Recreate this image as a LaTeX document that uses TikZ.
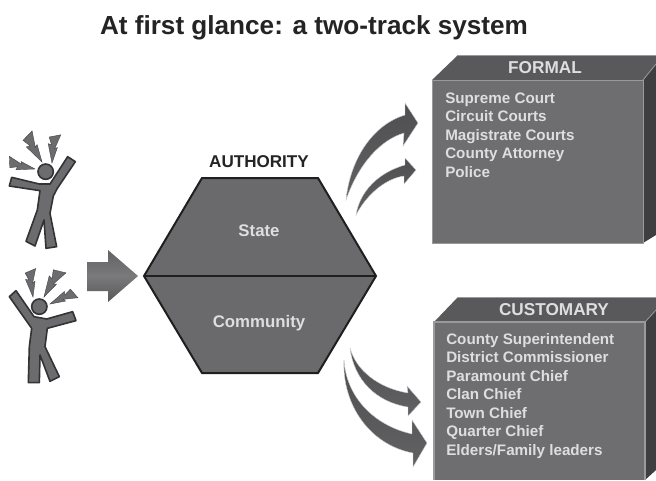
\documentclass[tikz,border=0pt]{standalone}
\usepackage{fontspec}
\setmainfont{Liberation Sans}
\definecolor{front}{HTML}{6E6E71}
\definecolor{topc}{HTML}{59595B}
\definecolor{sidec}{HTML}{3E3E40}
\definecolor{edgec}{HTML}{9A9A9C}
\definecolor{txt}{HTML}{DEDEDE}
\definecolor{hex}{HTML}{6A6A6C}
\definecolor{fig}{HTML}{6C6C6E}
\definecolor{figd}{HTML}{333335}
\definecolor{arr}{HTML}{626264}
\tikzset{x=0.75pt,y=-0.75pt,
 boxfront/.style={fill=front,draw=edgec,line width=0.8pt},
 listing/.style={anchor=north west,align=left,text=txt,font=\bfseries\fontsize{11.4}{13.85}\selectfont,inner sep=0pt},
 boxhead/.style={text=txt,font=\bfseries\fontsize{12.9}{14}\selectfont,inner sep=0pt},
 hexlabel/.style={text=txt,font=\bfseries\fontsize{12.6}{14}\selectfont,inner sep=0pt},
 curvearrow/.style={top color=arr!80!black,bottom color=arr,draw=white!70!arr,line width=0.3pt},
 person/.style={fill=fig,draw=figd,line width=1.2pt,line join=round},
 bolt/.style={fill=fig,draw=figd!70!fig,line width=0.3pt}}
\newcommand{\boltat}[4]{% tip x,y, screen angle, length
 \begin{scope}[shift={(#1,#2)},rotate=#3,scale=#4]
  \path[bolt] (0,0) -- (0.55,0.13) -- (0.50,0.04) -- (1,0.20) -- (0.88,-0.19) -- (0.62,-0.08) -- (0.65,-0.20) -- cycle;
 \end{scope}}
\begin{document}
\begin{tikzpicture}
\useasboundingbox (0,0) rectangle (656,480);
\fill[white] (0,0) rectangle (656,480);
\node[inner sep=0pt,text=figd!70!black,font=\bfseries\fontsize{19.6}{22}\selectfont] (title) at (314,28) {At first glance: a two-track system};

% figures
\begin{scope}[shift={(0,120)},scale=0.3333]
\path[person] (35,172) -- (118,192) -- (150,192) -- (203,110) -- (226,125) -- (172,205) -- (160,228) -- (150,280) -- (170,380) -- (138,385) -- (132,300) -- (105,378) -- (78,364) -- (112,270) -- (120,212) -- (28,198) -- cycle;
\path[person] (137,155) circle (23);
\path[person] (28,530) -- (48,512) -- (102,590) -- (140,597) -- (218,575) -- (228,602) -- (142,625) -- (135,680) -- (178,770) -- (150,784) -- (120,705) -- (118,788) -- (85,788) -- (88,680) -- (95,625) -- cycle;
\path[person] (118,560) circle (23);
\end{scope}
\boltat{35}{169}{165}{28}
\boltat{42}{162}{119}{32}
\boltat{52}{163}{84}{29}
\boltat{33}{297}{96}{28}
\boltat{44}{297}{59}{32}
\boltat{50}{304}{24}{28}

% main arrow
\path[top color=arr,bottom color=arr!90!black,middle color=arr!85!white] (87,262) -- (108,262) -- (108,250) -- (138,276) -- (108,302) -- (108,291) -- (87,291) -- cycle;

% hexagon
\node[inner sep=0pt,font=\bfseries\fontsize{12.8}{14}\selectfont,text=figd!70!black] (auth) at (259,162) {AUTHORITY};
\coordinate (hl) at (144,276);
\coordinate (hr) at (376,276);
\path[fill=hex,draw=figd!60!black,line width=1.5pt,line join=miter] (hl) -- (202,178) -- (318,178) -- (hr) -- (318,373) -- (202,373) -- cycle;
\draw[figd!60!black,line width=1.5pt] (hl) -- (hr);
\node[hexlabel] (state) at (259,231) {State};
\node[hexlabel] (comm) at (259,323) {Community};

% curved arrows
\path[curvearrow] (346,200) .. controls (350,160) and (372,125) .. (405,115) -- (405,103) -- (418,123) -- (403,146) -- (404,133) .. controls (380,140) and (358,165) .. cycle;
\path[curvearrow] (356,215) .. controls (360,190) and (380,172) .. (405,165) -- (405,158) -- (416,170) -- (404,184) -- (404,176) .. controls (388,178) and (368,192) .. cycle;
\path[curvearrow] (350,348) .. controls (356,370) and (378,388) .. (408,393) -- (407,386) -- (421,402) -- (408,416) -- (408,407) .. controls (376,402) and (354,380) .. cycle;
\path[curvearrow] (344,360) .. controls (346,395) and (372,425) .. (412,434) -- (412,420) -- (427,443) -- (413,467) -- (413,453) .. controls (370,445) and (342,405) .. cycle;

% formal box
\fill[topc] (432,80) -- (458,55) -- (656,55) -- (656,64) -- (643,80) -- cycle;
\draw[edgec,line width=0.4pt] (458,55) -- (656,55);
\fill[sidec] (643,80) -- (656,64) -- (656,235) -- (643,243) -- cycle;
\draw[edgec,line width=0.6pt] (643,80) -- (656,64);
\node[boxfront,minimum width=158.25pt,minimum height=122.25pt,inner sep=0pt,anchor=north west] (formal) at (432,80) {};
\node[boxhead] (formalh) at (545,68) {FORMAL};
\node[listing] (formall) at (445,92.5) {Supreme Court\\Circuit Courts\\Magistrate Courts\\County Attorney\\Police};

% customary box
\fill[topc] (434,322) -- (458,297) -- (656,297) -- (656,310) -- (645,322) -- cycle;
\draw[edgec,line width=0.4pt] (458,297) -- (656,297);
\fill[sidec] (645,322) -- (656,310) -- (656,470) -- (645,480) -- cycle;
\draw[edgec,line width=0.6pt] (645,322) -- (656,310);
\path[boxfront] (434,480) -- (434,322) -- (645,322) -- (645,480);
\node[boxhead] (custh) at (554,310) {CUSTOMARY};
\node[listing] (custl) at (446,333) {County Superintendent\\District Commissioner\\Paramount Chief\\Clan Chief\\Town Chief\\Quarter Chief\\Elders/Family leaders};
\end{tikzpicture}
\end{document}
